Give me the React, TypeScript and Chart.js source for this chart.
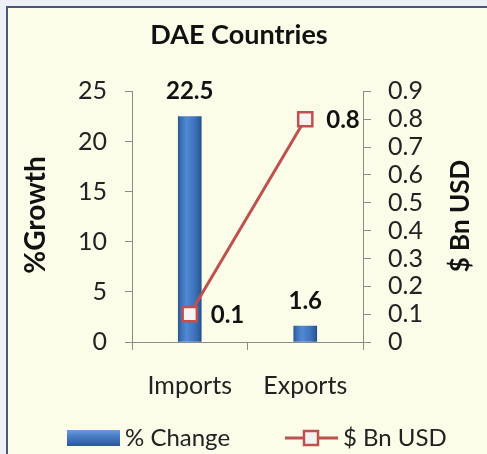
import React, { useEffect, useRef } from "react";
import { Chart, registerables } from "chart.js";

Chart.register(...registerables);

const categories = ["Imports", "Exports"];
const pctChange = [22.5, 1.6];
const bnUsd = [0.1, 0.8];
const leftTicks = [0, 5, 10, 15, 20, 25];
const rightTicks = [0, 0.1, 0.2, 0.3, 0.4, 0.5, 0.6, 0.7, 0.8, 0.9];
const chartTitle = "DAE Countries";
const leftTitle = "%Growth";
const rightTitle = "$ Bn USD";
const barLabel = "% Change";
const lineLabel = "$ Bn USD";

const FONT = "Lato, 'Open Sans', sans-serif";
const RED = "#c0504d";
const AXIS = "#8c8c8c";

function barGradient(ctx: CanvasRenderingContext2D, x: number, w: number) {
  const g = ctx.createLinearGradient(x - w / 2, 0, x + w / 2, 0);
  g.addColorStop(0, "#2b5896");
  g.addColorStop(0.12, "#3b6fb6");
  g.addColorStop(0.35, "#5189d2");
  g.addColorStop(0.7, "#3f74bd");
  g.addColorStop(0.9, "#30609f");
  g.addColorStop(1, "#254f8a");
  return g;
}

const backgroundPlugin = {
  id: "bgPlugin",
  beforeDraw(chart: any) {
    const c = chart.ctx as CanvasRenderingContext2D;
    c.save();
    c.fillStyle = "#eef0f7";
    c.fillRect(0, 0, chart.width, chart.height);
    c.fillStyle = "#fbfde9";
    c.fillRect(8, 8, chart.width - 8, chart.height - 8);
    c.strokeStyle = "#4b5578";
    c.lineWidth = 2;
    c.beginPath();
    c.moveTo(7, chart.height);
    c.lineTo(7, 7);
    c.lineTo(chart.width, 7);
    c.stroke();
    c.restore();
  },
};

const decorPlugin = {
  id: "decorPlugin",
  afterDraw(chart: any) {
    const c = chart.ctx as CanvasRenderingContext2D;
    c.save();
    // axis titles (both read bottom-to-top)
    c.fillStyle = "#111";
    c.textAlign = "center";
    c.textBaseline = "middle";
    c.save();
    c.font = `bold 28px ${FONT}`;
    c.translate(36, 215);
    c.rotate(-Math.PI / 2);
    c.fillText(leftTitle, 0, 0);
    c.restore();
    c.save();
    c.font = `bold 26px ${FONT}`;
    c.translate(461, 216);
    c.rotate(-Math.PI / 2);
    c.fillText(rightTitle, 0, 0);
    c.restore();

    // data labels
    c.font = `bold 24px ${FONT}`;
    const barMeta = chart.getDatasetMeta(0);
    barMeta.data.forEach((el: any, i: number) => {
      c.textAlign = "center";
      c.textBaseline = "middle";
      c.fillText(String(pctChange[i]), el.x, el.y - 25);
    });
    const lineMeta = chart.getDatasetMeta(1);
    lineMeta.data.forEach((el: any, i: number) => {
      c.textAlign = "left";
      c.textBaseline = "middle";
      c.fillText(String(bnUsd[i]), el.x + 21, el.y + 1);
    });

    // legend
    const ly = 438;
    const sg = c.createLinearGradient(0, ly - 8, 0, ly + 8);
    sg.addColorStop(0, "#6c9be0");
    sg.addColorStop(0.35, "#4a80c8");
    sg.addColorStop(1, "#2b5896");
    c.fillStyle = sg;
    c.fillRect(67, ly - 8, 53, 16);
    c.fillStyle = "#222";
    c.font = `24px ${FONT}`;
    c.textAlign = "left";
    c.textBaseline = "middle";
    c.fillText(barLabel, 125, ly);

    c.strokeStyle = RED;
    c.lineWidth = 3;
    c.beginPath();
    c.moveTo(285, ly);
    c.lineTo(338, ly);
    c.stroke();
    c.fillStyle = "#f4f1ee";
    c.fillRect(304, ly - 7, 14, 14);
    c.lineWidth = 2.5;
    c.strokeRect(304, ly - 7, 14, 14);
    c.fillStyle = "#222";
    c.fillText(lineLabel, 343, ly);
    c.restore();
  },
};

export default function App() {
  const ref = useRef<HTMLCanvasElement>(null);
  useEffect(() => {
    if (!ref.current) return;
    const chart = new Chart(ref.current, {
      type: "bar",
      data: {
        labels: categories,
        datasets: [
          {
            type: "bar",
            label: barLabel,
            data: pctChange,
            yAxisID: "y",
            order: 2,
            barThickness: 23,
            borderWidth: 0,
            backgroundColor: (ctx: any) => {
              const ch = ctx.chart;
              const xs = ch.scales && ch.scales.x;
              if (!xs || !ch.chartArea) return "#3f74bd";
              const x = xs.getPixelForValue(ctx.dataIndex);
              return barGradient(ch.ctx, x, 23);
            },
          },
          {
            type: "line",
            label: lineLabel,
            data: bnUsd,
            yAxisID: "y1",
            order: 1,
            borderColor: RED,
            borderWidth: 3,
            pointStyle: "rect",
            pointRadius: 10,
            pointBorderWidth: 2.5,
            pointBackgroundColor: "#f6f3f0",
            pointBorderColor: RED,
            tension: 0,
          },
        ] as any,
      },
      options: {
        responsive: false,
        animation: false,
        layout: { padding: { left: 0, right: 9, top: 0, bottom: 0 } },
        plugins: {
          legend: { display: false },
          tooltip: { enabled: false },
          title: {
            display: true,
            text: chartTitle,
            color: "#111",
            font: { family: FONT, size: 27, weight: "bold" },
            padding: { top: 19, bottom: 40 },
          },
        },
        scales: {
          x: {
            offset: true,
            grid: {
              display: true,
              offset: true,
              drawOnChartArea: false,
              drawTicks: true,
              tickLength: 8,
              color: AXIS,
            },
            border: { display: true, color: AXIS, width: 1 },
            ticks: {
              color: "#222",
              font: { family: FONT, size: 25 },
              padding: 21,
              maxRotation: 0,
            },
            afterFit: (s: any) => {
              s.height = 112;
            },
          },
          y: {
            position: "left",
            min: leftTicks[0],
            max: leftTicks[leftTicks.length - 1],
            afterBuildTicks: (s: any) => {
              s.ticks = leftTicks.map((v) => ({ value: v }));
            },
            grid: {
              drawOnChartArea: false,
              drawTicks: true,
              tickLength: 7,
              color: AXIS,
            },
            border: { display: true, color: AXIS, width: 1 },
            ticks: {
              color: "#222",
              font: { family: FONT, size: 25 },
              padding: 18,
              autoSkip: false,
              callback: (v: any) => String(v),
            },
            afterFit: (s: any) => {
              s.width = 132;
            },
          },
          y1: {
            position: "right",
            min: rightTicks[0],
            max: rightTicks[rightTicks.length - 1],
            afterBuildTicks: (s: any) => {
              s.ticks = rightTicks.map((v) => ({ value: v }));
            },
            grid: {
              drawOnChartArea: false,
              drawTicks: true,
              tickLength: 8,
              color: AXIS,
            },
            border: { display: true, color: AXIS, width: 1 },
            ticks: {
              color: "#222",
              font: { family: FONT, size: 25 },
              padding: 17,
              autoSkip: false,
              callback: (v: any) => String(Math.round(v * 10) / 10),
            },
            afterFit: (s: any) => {
              s.width = 115;
            },
          },
        },
      } as any,
      plugins: [backgroundPlugin, decorPlugin],
    });
    return () => chart.destroy();
  }, []);
  return (
    <div style={{ position: "fixed", left: 0, top: 0, width: 487, height: 454 }}>
      <canvas ref={ref} width={487} height={454} style={{ display: "block" }} />
    </div>
  );
}
